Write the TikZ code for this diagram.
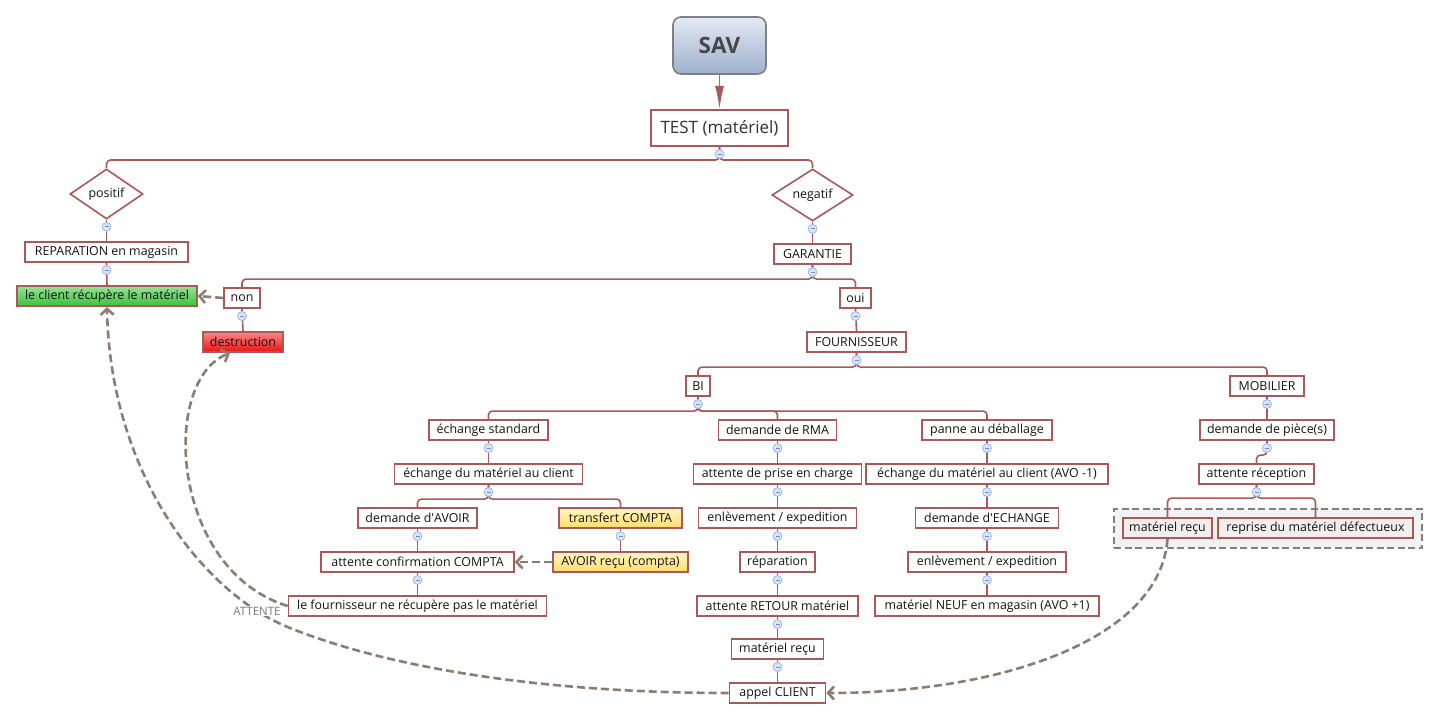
\documentclass[tikz,border=0pt]{standalone}
\usepackage{fontspec}
\setmainfont{Open Sans}
\usetikzlibrary{arrows.meta,shapes.geometric}
\definecolor{bord}{RGB}{170,88,88}
\definecolor{dashc}{RGB}{140,125,112}
\definecolor{collf}{RGB}{214,228,250}
\definecolor{colld}{RGB}{150,178,228}
\definecolor{txt}{RGB}{20,20,20}
\newcommand\coll[1]{\node[coll] (c-#1) at ([yshift=-7pt]#1.south) {};}
\begin{document}
\begin{tikzpicture}[x=1pt,y=-1pt,
  box/.style={draw=bord, line width=1.6pt, fill=white, minimum height=20.5pt, inner sep=0pt, text=txt, font=\fontsize{12.4}{14}\selectfont},
  dia/.style={draw=bord, line width=1.6pt, fill=white, diamond, aspect=1.6, inner sep=0pt, text=txt, font=\fontsize{12.4}{14}\selectfont},
  conn/.style={draw=bord, line width=1.6pt, rounded corners=4pt},
  coll/.style={circle, draw=colld, fill=collf, minimum size=9pt, inner sep=0pt, line width=0.7pt,
    path picture={\draw[colld!80!black, line width=0.7pt] ([xshift=-2pt]path picture bounding box.center) -- ([xshift=2pt]path picture bounding box.center);}},
  rel/.style={draw=dashc, line width=2.6pt, dash pattern=on 8pt off 4pt, -{Straight Barb[length=6pt,width=13pt,line width=2.6pt]}},
  grn/.style={box, top color={rgb,255:red,150;green,228;blue,150}, bottom color={rgb,255:red,58;green,192;blue,58}},
  rd/.style={box, top color={rgb,255:red,255;green,135;blue,135}, bottom color={rgb,255:red,232;green,18;blue,18}},
  yel/.style={box, top color={rgb,255:red,255;green,247;blue,196}, bottom color={rgb,255:red,255;green,220;blue,105}},
  gitem/.style={box, fill={rgb,255:red,242;green,238;blue,238}}
]
\useasboundingbox (0,0) rectangle (1440,722);
\fill[white] (0,0) rectangle (1440,722);

% root
\node[draw={rgb,255:red,128;green,128;blue,128}, line width=1.6pt, rounded corners=8pt,
  top color={rgb,255:red,228;green,234;blue,244}, bottom color={rgb,255:red,158;green,175;blue,206},
  minimum width=93pt, minimum height=57pt, inner sep=0pt,
  font=\fontsize{22.5}{26}\selectfont\bfseries, text={rgb,255:red,72;green,72;blue,72}] (sav) at (719.5,45.5) {SAV};
\node[box, minimum width=137pt, minimum height=36.5pt, font=\fontsize{17}{20}\selectfont, text={rgb,255:red,50;green,50;blue,50}] (test) at (719.5,128) {TEST (matériel)};

% level 1
\node[dia, minimum width=73pt, minimum height=50pt] (pos) at (106.5,194) {positif};
\node[dia, minimum width=81pt, minimum height=52pt] (neg) at (812.5,195) {negatif};
\node[box, minimum width=163pt] (rep) at (106.5,252) {REPARATION en magasin};
\node[grn, minimum width=180pt] (green) at (107,296) {le client récupère le matériel};
\node[box, minimum width=77pt] (gar) at (812.5,254) {GARANTIE};
\node[box, minimum width=36pt] (non) at (242,298) {non};
\node[rd, minimum width=80pt] (destr) at (243,342) {destruction};
\node[box, minimum width=31pt] (oui) at (855.5,298) {oui};
\node[box, minimum width=99pt] (four) at (856.5,342) {FOURNISSEUR};
\node[box, minimum width=24pt] (bi) at (698,386) {BI};
\node[box, minimum width=74pt] (mob) at (1267,386) {MOBILIER};

% BI children
\node[box, minimum width=119pt] (echstd) at (488.5,430) {échange standard};
\node[box, minimum width=118pt] (rma) at (777.5,430) {demande de RMA};
\node[box, minimum width=130pt] (panne) at (987,430) {panne au déballage};
\node[box, minimum width=134pt] (dpiece) at (1267,430) {demande de pièce(s)};

\node[box, minimum width=188pt] (echcli) at (488.5,474) {échange du matériel au client};
\node[box, minimum width=168pt] (prise) at (777.5,474) {attente de prise en charge};
\node[box, minimum width=242pt] (echavo) at (987,474) {échange du matériel au client (AVO -1)};
\node[box, minimum width=115pt] (attrec) at (1256.5,474) {attente réception};

\node[box, minimum width=119pt] (davoir) at (417.5,518) {demande d\textquotesingle AVOIR};
\node[yel, minimum width=123pt] (transf) at (620.5,518) {transfert COMPTA};
\node[box, minimum width=158pt] (enl1) at (777.5,518) {enlèvement / expedition};
\node[box, minimum width=143pt] (dech) at (987,518) {demande d\textquotesingle ECHANGE};

\node[draw={rgb,255:red,128;green,128;blue,128}, line width=2.4pt, dash pattern=on 7pt off 3.5pt, fill={rgb,255:red,242;green,242;blue,242},
  minimum width=308pt, minimum height=39pt, inner sep=0pt] (grp) at (1268,528.5) {};
\node[gitem, minimum width=89pt] (mrecu2) at (1167.5,528) {matériel reçu};
\node[gitem, minimum width=195pt] (reprise) at (1315.5,528) {reprise du matériel défectueux};

\node[box, minimum width=193pt] (attconf) at (417.5,562) {attente confirmation COMPTA};
\node[yel, minimum width=135pt] (avrecu) at (620.5,562) {AVOIR reçu (compta)};
\node[box, minimum width=75pt] (repar) at (777.5,562) {réparation};
\node[box, minimum width=158pt] (enl2) at (987,562) {enlèvement / expedition};

\node[box, minimum width=258pt] (fourn) at (417.5,606) {le fournisseur ne récupère pas le matériel};
\node[box, minimum width=161pt] (retour) at (777.5,606) {attente RETOUR matériel};
\node[box, minimum width=224pt] (neuf) at (987,606) {matériel NEUF en magasin (AVO +1)};

\node[box, minimum width=92pt] (mrecu) at (777.5,649) {matériel reçu};
\node[box, minimum width=96pt] (appel) at (777.5,693) {appel CLIENT};

% root arrow
\draw[line width=1.6pt, draw={rgb,255:red,140;green,120;blue,120}, -{Latex[length=23pt,width=9pt,color=bord]}] (sav.south) -- (test.north);

% tree connectors
\draw[conn] (test.south) -- ++(0,13) -| (pos.north);
\draw[conn] (test.south) -- ++(0,13) -| (neg.north);
\draw[conn] (pos.south) -- (rep.north);
\draw[conn] (rep.south) -- (green.north);
\draw[conn] (neg.south) -- (gar.north);
\draw[conn] (gar.south) -- ++(0,14) -| (non.north);
\draw[conn] (gar.south) -- ++(0,14) -| (oui.north);
\draw[conn] (non.south) -- (destr.north);
\draw[conn] (oui.south) -- (four.north);
\draw[conn] (four.south) -- ++(0,14) -| (bi.north);
\draw[conn] (four.south) -- ++(0,14) -| (mob.north);
\draw[conn] (bi.south) -- ++(0,14) -| (echstd.north);
\draw[conn] (bi.south) -- ++(0,14) -| (rma.north);
\draw[conn] (bi.south) -- ++(0,14) -| (panne.north);
\draw[conn] (mob.south) -- (dpiece.north);
\draw[conn] (dpiece.south) -- ++(0,14) -| (attrec.north);
\draw[conn] (echstd.south) -- (echcli.north);
\draw[conn] (echcli.south) -- ++(0,14) -| (davoir.north);
\draw[conn] (echcli.south) -- ++(0,14) -| (transf.north);
\draw[conn] (davoir.south) -- (attconf.north);
\draw[conn] (attconf.south) -- (fourn.north);
\draw[conn] (transf.south) -- (avrecu.north);
\draw[conn] (rma.south) -- (prise.north);
\draw[conn] (prise.south) -- (enl1.north);
\draw[conn] (enl1.south) -- (repar.north);
\draw[conn] (repar.south) -- (retour.north);
\draw[conn] (retour.south) -- (mrecu.north);
\draw[conn] (mrecu.south) -- (appel.north);
\draw[conn] (panne.south) -- (echavo.north);
\draw[conn] (echavo.south) -- (dech.north);
\draw[conn] (dech.south) -- (enl2.north);
\draw[conn] (enl2.south) -- (neuf.north);
\draw[conn] (attrec.south) -- ++(0,13) -| (mrecu2.north);
\draw[conn] (attrec.south) -- ++(0,13) -| (reprise.north);

% collapse markers
\coll{test}\coll{pos}\coll{rep}\coll{neg}\coll{gar}\coll{non}\coll{oui}\coll{four}
\coll{bi}\coll{mob}\coll{echstd}\coll{rma}\coll{panne}\coll{dpiece}\coll{echcli}\coll{prise}
\coll{echavo}\coll{attrec}\coll{davoir}\coll{transf}\coll{enl1}\coll{dech}\coll{attconf}
\coll{repar}\coll{enl2}\coll{retour}\coll{mrecu}

% relations
\draw[rel] (non.west) -- (green.east);
\draw[rel] (avrecu.west) -- (attconf.east);
\draw[rel] (fourn.west) .. controls (170,570) and (160,380) .. ([xshift=-13pt]destr.south);
\draw[rel] (appel.west) .. controls (560,693) and (400,672) .. (290,628)
   .. controls (200,592) and (110,470) .. (green.south);
\draw[rel] (mrecu2.south) .. controls (1160,640) and (1000,693) .. (appel.east);
\node[fill=white, inner sep=1pt, font=\fontsize{11.5}{13}\selectfont, text={rgb,255:red,120;green,120;blue,120}] (attlbl) at (257,611) {ATTENTE};
\end{tikzpicture}
\end{document}
